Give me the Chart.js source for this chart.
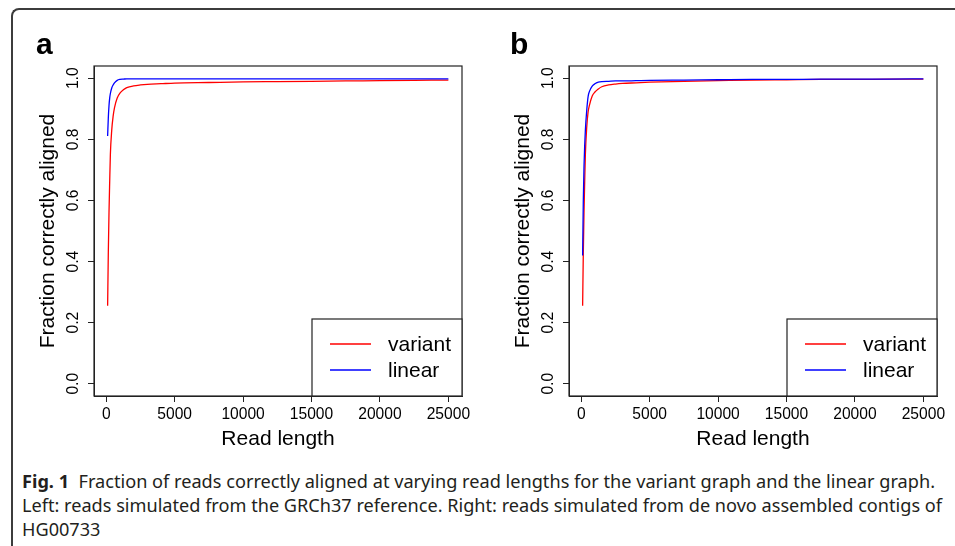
<!DOCTYPE html>
<html><head><meta charset="utf-8">
<script src="https://cdn.jsdelivr.net/npm/chart.js@4"></script>
<style>
html,body{margin:0;padding:0;background:#fff;width:955px;height:546px;overflow:hidden;position:relative}
.frame{position:absolute;left:11px;top:8px;width:1000px;height:600px;border-top:2px solid #3c3c3c;border-left:2px solid #3c3c3c;border-top-left-radius:8px;box-sizing:border-box}
.panel{position:absolute;top:0;width:475px;height:460px}
.lbl{position:absolute;font:bold 30px "Liberation Sans",Arial,sans-serif;line-height:30px;color:#000}
.cap{position:absolute;left:22px;font-family:"Noto Sans","Open Sans",sans-serif;font-size:17.5px;line-height:24px;color:#231f20;white-space:nowrap;transform-origin:0 50%}
</style></head>
<body>
<div class="frame"></div>
<canvas id="ca" class="panel" width="475" height="460" style="left:0"></canvas>
<canvas id="cb" class="panel" width="475" height="460" style="left:475px"></canvas>
<div class="lbl" style="left:36px;top:29px">a</div>
<div class="lbl" style="left:510px;top:29px">b</div>
<div id="cap1" class="cap" style="top:469px"><b>Fig. 1</b>&nbsp; Fraction of reads correctly aligned at varying read lengths for the variant graph and the linear graph.</div>
<div id="cap2" class="cap" style="top:493px">Left: reads simulated from the GRCh37 reference. Right: reads simulated from de novo assembled contigs of</div>
<div id="cap3" class="cap" style="top:517px">HG00733</div>
<script>
const readLengths = [100,150,200,250,300,400,500,600,800,1000,1250,1500,2000,2500,3000,4000,5000,7500,10000,12500,15000,17500,20000,22500,25000];
const variantA = [0.255,0.43,0.56,0.66,0.75,0.83,0.875,0.903,0.935,0.951,0.962,0.969,0.975,0.978,0.980,0.982,0.984,0.986,0.988,0.989,0.990,0.991,0.992,0.993,0.994];
const linearA  = [0.811,0.87,0.91,0.935,0.95,0.968,0.978,0.985,0.993,0.996,0.997,0.998,0.998,0.998,0.998,0.998,0.998,0.998,0.998,0.998,0.998,0.998,0.998,0.998,0.998];
const variantB = [0.255,0.43,0.56,0.66,0.75,0.84,0.89,0.912,0.942,0.955,0.965,0.972,0.978,0.981,0.983,0.985,0.987,0.990,0.992,0.994,0.995,0.996,0.996,0.997,0.997];
const linearB  = [0.42,0.60,0.71,0.78,0.83,0.895,0.94,0.957,0.974,0.982,0.987,0.989,0.990,0.991,0.991,0.992,0.993,0.994,0.995,0.996,0.996,0.997,0.997,0.997,0.998];
const xTicks = [0,5000,10000,15000,20000,25000];
const yTicks = [0,0.2,0.4,0.6,0.8,1.0];
const seriesNames = ['variant','linear'];
const seriesColors = ['#ff0000','#0000ff'];
const xTitle = 'Read length';
const yTitle = 'Fraction correctly aligned';

const FONT = '"Liberation Sans", Arial, sans-serif';

const boxLegend = {
  id:'boxLegend',
  afterDatasetsDraw(chart){
    const {ctx, chartArea:a} = chart;
    ctx.save();
    ctx.strokeStyle = '#222'; ctx.lineWidth = 1.2;
    ctx.strokeRect(a.left, a.top, a.right-a.left, a.bottom-a.top);
    const w = 150, h = 77;
    const x0 = a.right - w, y0 = a.bottom - h;
    ctx.fillStyle = '#fff';
    ctx.fillRect(x0, y0, w, h);
    ctx.strokeRect(x0, y0, w, h);
    ctx.font = '21px ' + FONT;
    ctx.textBaseline = 'middle';
    ctx.textAlign = 'left';
    seriesNames.forEach((n,i)=>{
      const y = y0 + 25 + i*26;
      ctx.strokeStyle = seriesColors[i]; ctx.lineWidth = 1.6;
      ctx.beginPath(); ctx.moveTo(x0+18, y); ctx.lineTo(x0+59, y); ctx.stroke();
      ctx.fillStyle = '#000';
      ctx.fillText(n, x0+76, y+1);
    });
    ctx.restore();
  }
};

function makePanel(id, variantVals, linearVals){
  const sets = [variantVals, linearVals];
  new Chart(document.getElementById(id), {
    type:'line',
    data:{datasets: seriesNames.map((n,i)=>({
      label:n,
      data: readLengths.map((x,k)=>({x:x, y:sets[i][k]})),
      borderColor: seriesColors[i],
      borderWidth: 1.3,
      pointRadius: 0,
      fill:false,
      cubicInterpolationMode:'monotone',
      order: 2-i
    }))},
    options:{
      responsive:false, animation:false, devicePixelRatio:1,
      layout:{padding:{top:66,right:13,left:0,bottom:0}},
      plugins:{legend:{display:false}, tooltip:{enabled:false}},
      scales:{
        x:{type:'linear', min:-896, max:25996,
          afterBuildTicks: s=>{ s.ticks = xTicks.map(v=>({value:v})); },
          afterFit: s=>{ s.height = 64; },
          grid:{display:true, drawOnChartArea:false, drawTicks:true, tickLength:6, color:'#222', lineWidth:1},
          border:{display:true, color:'#222', width:1},
          ticks:{color:'#000', font:{family:FONT, size:15.6}, padding:3, maxRotation:0, autoSkip:false, callback:v=>String(v)},
          title:{display:true, text:xTitle, color:'#000', font:{family:FONT, size:21}, padding:{top:0,bottom:8}}
        },
        y:{type:'linear', min:-0.04, max:1.04,
          afterBuildTicks: s=>{ s.ticks = yTicks.map(v=>({value:v})); },
          afterFit: s=>{ s.width = 94; },
          grid:{display:true, drawOnChartArea:false, drawTicks:true, tickLength:6, color:'#222', lineWidth:1},
          border:{display:true, color:'#222', width:1},
          ticks:{color:'#000', font:{family:FONT, size:15.6}, padding:3, minRotation:90, maxRotation:90, crossAlign:'center', autoSkip:false, callback:v=>Number(v).toFixed(1)},
          title:{display:true, text:yTitle, color:'#000', font:{family:FONT, size:21}, padding:{top:36,bottom:0}}
        }
      }
    },
    plugins:[boxLegend]
  });
}
makePanel('ca', variantA, linearA);
makePanel('cb', variantB, linearB);

function fit(id, target){
  const el = document.getElementById(id);
  const w = el.getBoundingClientRect().width;
  const s = target / w;
  el.style.transform = 'scaleX(' + s + ')';
  return s;
}
const s1 = fit('cap1', 913);
const s2 = fit('cap2', 920);
document.getElementById('cap3').style.transform = 'scaleX(' + s2 + ')';
</script>
</body></html>
